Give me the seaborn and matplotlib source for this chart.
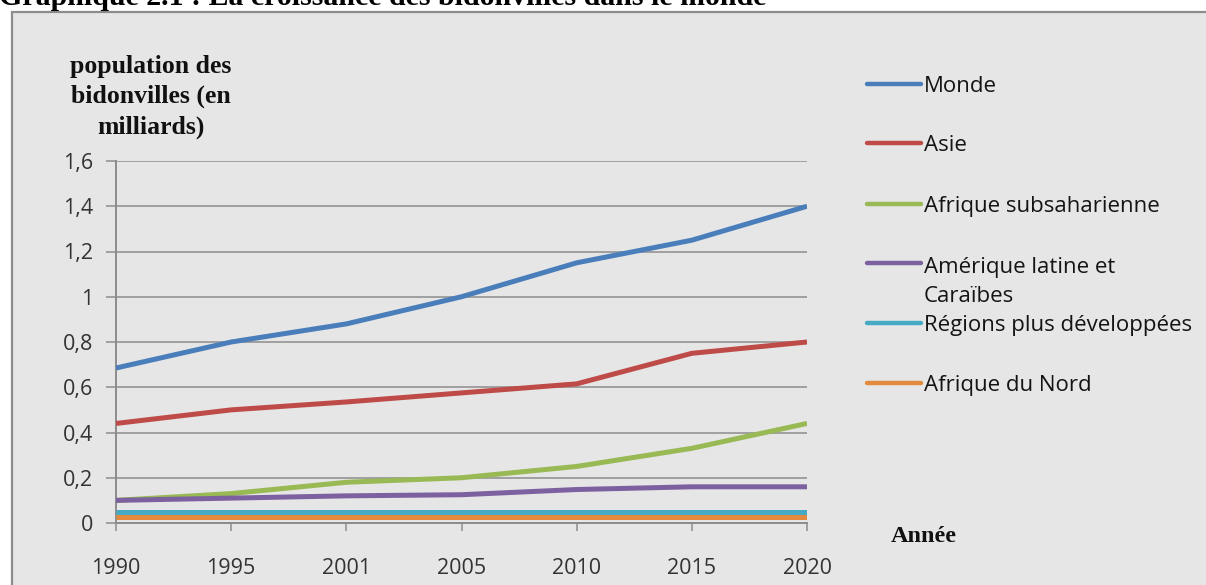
import matplotlib
matplotlib.use("Agg")
import matplotlib.pyplot as plt
from matplotlib.lines import Line2D
from matplotlib.patches import Rectangle
import pandas as pd
import seaborn as sns

# --- data (milliards d'habitants des bidonvilles) ---
years = ["1990", "1995", "2001", "2005", "2010", "2015", "2020"]
monde = [0.685, 0.80, 0.88, 1.00, 1.15, 1.25, 1.40]
asie = [0.44, 0.50, 0.535, 0.575, 0.615, 0.75, 0.80]
afrique_subsaharienne = [0.10, 0.13, 0.18, 0.20, 0.25, 0.33, 0.44]
amerique_latine = [0.10, 0.11, 0.12, 0.125, 0.148, 0.16, 0.16]
regions_developpees = [0.05, 0.05, 0.05, 0.05, 0.05, 0.05, 0.05]
afrique_nord = [0.025, 0.025, 0.025, 0.025, 0.025, 0.025, 0.025]

region_names = ["Monde", "Asie", "Afrique subsaharienne",
                "Amérique latine et\nCaraïbes", "Régions plus développées",
                "Afrique du Nord"]
region_values = [monde, asie, afrique_subsaharienne, amerique_latine,
                 regions_developpees, afrique_nord]
region_colors = ["#4A7EBB", "#BE4B48", "#98B954", "#7D60A0", "#46AAC5", "#E48A3E"]

y_ticks = [0, 0.2, 0.4, 0.6, 0.8, 1.0, 1.2, 1.4, 1.6]
y_tick_labels = ["0", "0,2", "0,4", "0,6", "0,8", "1", "1,2", "1,4", "1,6"]

title_text = "Graphique 2.1 : La croissance des bidonvilles dans le monde"
y_label = "population des\nbidonvilles (en\nmilliards)"
x_label = "Année"

df = pd.DataFrame({
    "annee": [y for _ in region_names for y in years],
    "region": [r for r in region_names for _ in years],
    "population": [v for vals in region_values for v in vals],
})

sns.set_style("white")
plt.rcParams["font.family"] = ["Open Sans", "DejaVu Sans"]

W, H = 1206, 585
fig = plt.figure(figsize=(W / 100, H / 100), dpi=100, facecolor="white")


def fx(px):
    return px / W


def fy(py):
    return 1 - py / H


# grey chart frame
frame = Rectangle((fx(11.5), fy(H + 20)), fx(W + 40), (H + 20 - 11.5) / H,
                  transform=fig.transFigure, facecolor="#E6E6E6",
                  edgecolor="#8C8C8C", linewidth=1.6, zorder=0)
fig.add_artist(frame)

ax = fig.add_axes([fx(116), fy(523), fx(807 - 116), (523 - 161) / H])
ax.set_facecolor("none")

palette = dict(zip(region_names, region_colors))
sns.lineplot(data=df, x="annee", y="population", hue="region",
             hue_order=region_names, palette=palette, linewidth=3.6,
             legend=False, ax=ax, sort=False)
for line in ax.get_lines():
    line.set_solid_joinstyle("round")
    line.set_solid_capstyle("butt")
    line.set_zorder(3)

ax.set_xlim(0, len(years) - 1)
ax.set_ylim(0, 1.6)
ax.set_yticks(y_ticks)
ax.set_yticklabels(y_tick_labels)
ax.set_xlabel("")
ax.set_ylabel("")

grid_col = "#8C8C8C"
ax.yaxis.grid(True, color=grid_col, linewidth=1.1)
ax.xaxis.grid(False)
ax.set_axisbelow(True)
for side in ["top", "right"]:
    ax.spines[side].set_visible(False)
for side in ["left", "bottom"]:
    ax.spines[side].set_color(grid_col)
    ax.spines[side].set_linewidth(1.4)

tick_col = "#333333"
ax.tick_params(axis="y", which="major", direction="out", length=7.5, width=1.1,
               color=grid_col, pad=9, labelsize=15.5, labelcolor=tick_col,
               left=True)
ax.tick_params(axis="x", which="major", direction="out", length=6, width=1.1,
               color=grid_col, pad=19, labelsize=15.5, labelcolor=tick_col,
               bottom=True)

# legend on the right (handle aligned with the first line of each label)
legend_rows = [84, 143, 204, 263, 323, 383]
line_step = 31
for name, col, yy in zip(region_names, region_colors, legend_rows):
    fig.add_artist(Line2D([fx(867), fx(921)], [fy(yy), fy(yy)],
                          transform=fig.transFigure, color=col,
                          linewidth=3.2, solid_capstyle="round"))
    n_lines = name.count("\n") + 1
    fig.text(fx(924), fy(yy + 8 + line_step * (n_lines - 1)), name,
             fontsize=16, color="#141414", ha="left", va="baseline",
             linespacing=1.5)

serif = ["Liberation Serif", "DejaVu Serif"]
fig.text(fx(151), fy(97), y_label, family=serif, fontweight="bold",
         fontsize=18.5, ha="center", va="center", multialignment="center",
         linespacing=1.4, color="#111111")
fig.text(fx(924), fy(537), x_label, family=serif, fontweight="bold",
         fontsize=17.5, ha="center", va="center", color="#111111")
fig.text(fx(-1), fy(5), title_text, family=serif, fontweight="bold",
         fontsize=21.5, ha="left", va="baseline", color="black")

fig.savefig("out.png", dpi=100, facecolor="white")
